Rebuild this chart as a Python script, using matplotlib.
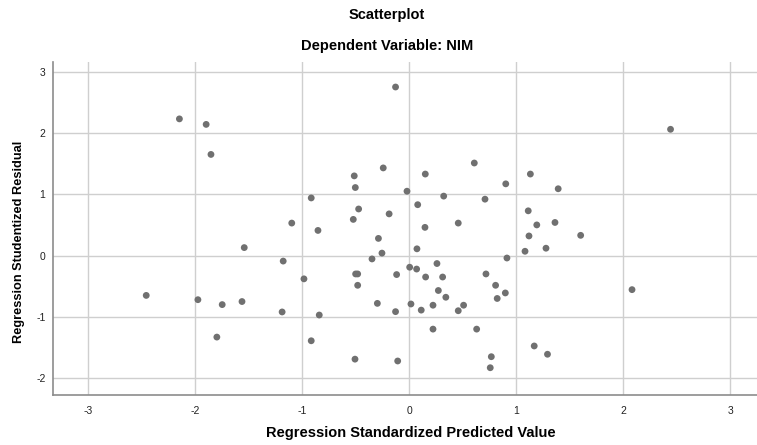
import matplotlib
matplotlib.use("Agg")
import matplotlib.pyplot as plt

# ---------- data ----------
pred = [
    -2.15, -1.90, -1.855,
    -0.13, -0.245, 0.606, -0.516, 0.148, -0.506, -0.023, -0.918, 0.32,
    0.706, 0.077, -0.475, -0.19, -1.10, -0.525, 0.456, -0.855, 0.145,
    2.44, 1.13, 0.90, 1.39, 1.11, 1.19, 1.36, 1.117, 1.60,
    -1.544, -2.46, -1.977, -1.75, -1.565, -1.80,
    -0.29, 0.07, -0.257, -1.18, -0.35, 0.257, -0.986, -0.503, -0.484,
    -0.484, -0.12, 0.002, 0.067, 0.151, 0.31, 0.715, 0.805, 0.82,
    0.27, 0.34, -1.19, -0.843, -0.30, -0.13, 0.014, 0.11, 0.22,
    0.456, 0.506, -0.918, 0.22, 0.628, -0.509, -0.11, 0.765, 0.755,
    1.08, 1.276, 0.911, 0.896, 2.08, 1.166, 1.29,
]
resid = [
    2.23, 2.14, 1.65,
    2.75, 1.43, 1.51, 1.30, 1.33, 1.11, 1.05, 0.94, 0.97,
    0.92, 0.83, 0.76, 0.68, 0.53, 0.59, 0.53, 0.41, 0.46,
    2.06, 1.33, 1.17, 1.09, 0.73, 0.50, 0.54, 0.32, 0.33,
    0.13, -0.65, -0.72, -0.80, -0.75, -1.33,
    0.28, 0.11, 0.04, -0.09, -0.055, -0.13, -0.38, -0.30, -0.30,
    -0.485, -0.31, -0.19, -0.22, -0.35, -0.35, -0.30, -0.485, -0.70,
    -0.57, -0.68, -0.92, -0.97, -0.78, -0.915, -0.79, -0.89, -0.81,
    -0.90, -0.81, -1.39, -1.20, -1.20, -1.69, -1.72, -1.65, -1.83,
    0.07, 0.12, -0.04, -0.61, -0.556, -1.475, -1.61,
]
x_ticks = [-3, -2, -1, 0, 1, 2, 3]
y_ticks = [-2, -1, 0, 1, 2, 3]

plt.rcParams["font.family"] = ["Liberation Sans", "DejaVu Sans"]
plt.rcParams["axes.unicode_minus"] = False

W, H = 757, 445
fig = plt.figure(figsize=(W / 100, H / 100), dpi=100)
ax = fig.add_axes([52.5 / W, 1 - 394.7 / H, 1 - 52.5 / W, (394.7 - 62) / H])

ax.scatter(pred, resid, s=24, color="#707070", edgecolors="none", zorder=3)

ax.set_xlim(-3.336, 3.248)
ax.set_ylim(-2.27, 3.158)
ax.set_xticks(x_ticks)
ax.set_yticks(y_ticks)
ax.grid(True, color="#cfcfcf", linewidth=1.0, zorder=0)
ax.set_axisbelow(True)

for side in ["top", "right"]:
    ax.spines[side].set_visible(False)
for side in ["left", "bottom"]:
    ax.spines[side].set_color("#8c8c8c")
    ax.spines[side].set_linewidth(1.2)

ax.tick_params(axis="both", length=0, labelsize=7.5, labelcolor="#222222")
ax.tick_params(axis="x", pad=8)
ax.tick_params(axis="y", pad=5)

ax.set_xlabel("Regression Standardized Predicted Value", fontsize=10.5,
              fontweight="bold", va="center")
ax.xaxis.set_label_coords((411 - 52.5) / (W - 52.5), -(433 - 394.7) / (394.7 - 62))
ax.set_ylabel("Regression Studentized Residual", fontsize=9.2,
              fontweight="bold", va="center")
ax.yaxis.set_label_coords(-(52.5 - 19) / (W - 52.5), (394.7 - 242) / (394.7 - 62))

fig.text(387 / W, 1 - 15 / H, "Scatterplot", ha="center", va="center",
         fontsize=10.5, fontweight="bold")
fig.text(387 / W, 1 - 46 / H, "Dependent Variable: NIM", ha="center", va="center",
         fontsize=10.5, fontweight="bold")

fig.savefig("out.png", dpi=100)
